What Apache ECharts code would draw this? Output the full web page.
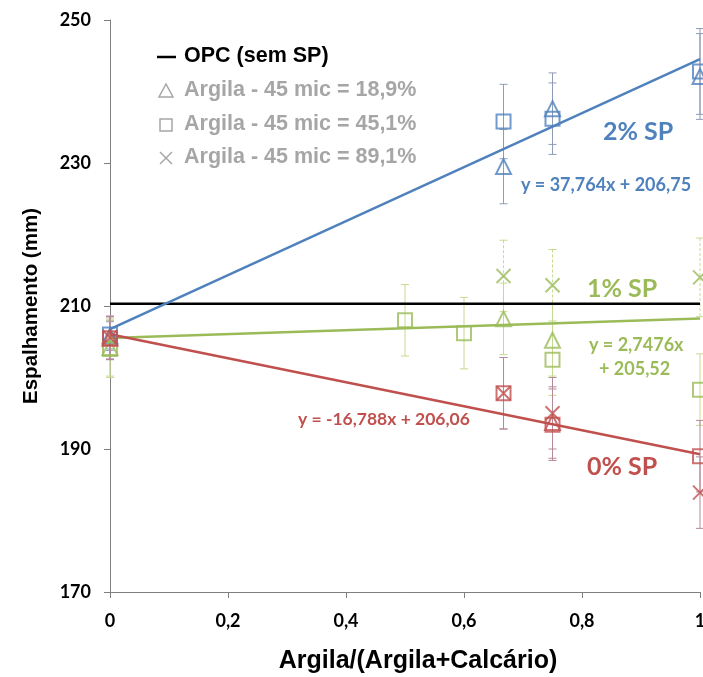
<!DOCTYPE html>
<html>
<head>
<meta charset="utf-8">
<style>
  html, body { margin: 0; padding: 0; background: #fff; }
  #chart { width: 703px; height: 677px; }
</style>
<script src="https://cdn.jsdelivr.net/npm/echarts@6/dist/echarts.min.js"></script>
</head>
<body>
<div id="chart"></div>
<script>
// Spread (mm) against clay fraction for three superplasticizer dosages
const xTicks = [0, 0.2, 0.4, 0.6, 0.8, 1];
const yTicks = [170, 190, 210, 230, 250];

// 2% SP
const sp2TriX = [0, 0.667, 0.75, 1];
const sp2TriY = [205.8, 229.5, 237.6, 242.1];
const sp2TriErr = [2.0, 5.2, 5.0, 6.0];
const sp2SqX = [0, 0.667, 0.75, 1];
const sp2SqY = [206.0, 235.8, 236.2, 242.8];
const sp2SqErr = [2.0, 5.2, 5.0, 6.0];

// 1% SP
const sp1TriX = [0, 0.667, 0.75];
const sp1TriY = [204.2, 208.2, 205.2];
const sp1TriErr = [4.0, 5.0, 5.0];
const sp1SqX = [0, 0.5, 0.6, 0.75, 1];
const sp1SqY = [204.0, 208.0, 206.2, 202.5, 198.3];
const sp1SqErr = [4.0, 5.0, 5.0, 5.0, 5.0];
const sp1CrX = [0.667, 0.75, 1];
const sp1CrY = [214.2, 212.9, 214.0];
const sp1CrErr = [5.0, 5.0, 5.5];

// 0% SP
const sp0TriX = [0, 0.75];
const sp0TriY = [205.5, 193.7];
const sp0TriErr = [3.0, 5.0];
const sp0SqX = [0, 0.667, 0.75, 1];
const sp0SqY = [205.5, 197.8, 193.4, 189.0];
const sp0SqErr = [3.0, 5.0, 5.0, 5.0];
const sp0CrX = [0, 0.667, 0.75, 1];
const sp0CrY = [205.6, 197.8, 195.0, 183.9];
const sp0CrErr = [3.0, 5.0, 5.0, 5.0];

// Linear fits y = a*x + b
const fit2 = [37.764, 206.75];
const fit1 = [2.7476, 205.52];
const fit0 = [-16.788, 206.06];
const opcLevel = 210.3;

const BLUE = '#4f81bd', GREEN = '#9bbb59', RED = '#c0504d', GREY = '#a6a6a6';
const CROSS = 'path://M0,0L10,10M10,0L0,10';

function pts(xs, ys) { return xs.map((x, i) => [x, ys[i]]); }
function errPts(xs, ys, es) { return xs.map((x, i) => [x, ys[i], es[i]]); }
function fitLine(f) { return [[0, f[1]], [1, f[0] + f[1]]]; }

function markers(data, symbol, color) {
  return {
    type: 'scatter', data: data, symbol: symbol, symbolSize: symbol === 'triangle' ? 15 : 14,
    itemStyle: { color: 'rgba(255,255,255,0)', borderColor: color, borderWidth: 2 },
    z: 5, silent: true, clip: true
  };
}

function errorBars(data, color, dashed) {
  return {
    type: 'custom', data: data, z: 2, silent: true,
    renderItem: function (params, api) {
      const x = api.value(0), y = api.value(1), e = api.value(2);
      const top = api.coord([x, y + e]);
      const bot = api.coord([x, y - e]);
      const cap = 4;
      const style = { stroke: color, lineWidth: 1, lineDash: dashed ? [3, 2] : null };
      return {
        type: 'group', children: [
          { type: 'line', shape: { x1: top[0], y1: top[1], x2: bot[0], y2: bot[1] }, style: style },
          { type: 'line', shape: { x1: top[0] - cap, y1: top[1], x2: top[0] + cap, y2: top[1] }, style: { stroke: color, lineWidth: 1 } },
          { type: 'line', shape: { x1: bot[0] - cap, y1: bot[1], x2: bot[0] + cap, y2: bot[1] }, style: { stroke: color, lineWidth: 1 } }
        ]
      };
    }
  };
}

function fitSeries(f, color) {
  return {
    type: 'line', data: fitLine(f), symbol: 'none', z: 4, silent: true,
    lineStyle: { color: color, width: 2.5 }
  };
}

const BAR_BLUE = '#8e9cb8', BAR_GREEN = '#c6da8f', BAR_RED = '#b4899a';

const series = [
  errorBars(errPts(sp2TriX, sp2TriY, sp2TriErr), BAR_BLUE),
  errorBars(errPts(sp2SqX, sp2SqY, sp2SqErr), BAR_BLUE),
  errorBars(errPts(sp1TriX, sp1TriY, sp1TriErr), BAR_GREEN),
  errorBars(errPts(sp1SqX, sp1SqY, sp1SqErr), BAR_GREEN),
  errorBars(errPts(sp1CrX, sp1CrY, sp1CrErr), BAR_GREEN, true),
  errorBars(errPts(sp0TriX, sp0TriY, sp0TriErr), BAR_RED),
  errorBars(errPts(sp0SqX, sp0SqY, sp0SqErr), BAR_RED),
  errorBars(errPts(sp0CrX, sp0CrY, sp0CrErr), BAR_RED),
  {
    type: 'line', data: [[0, opcLevel], [1, opcLevel]], symbol: 'none', z: 3, silent: true,
    lineStyle: { color: '#000', width: 2.5 }
  },
  fitSeries(fit2, BLUE),
  fitSeries(fit1, GREEN),
  fitSeries(fit0, RED),
  markers(pts(sp2TriX, sp2TriY), 'triangle', BLUE),
  markers(pts(sp2SqX, sp2SqY), 'rect', BLUE),
  markers(pts(sp1TriX, sp1TriY), 'triangle', GREEN),
  markers(pts(sp1SqX, sp1SqY), 'rect', GREEN),
  markers(pts(sp1CrX, sp1CrY), CROSS, GREEN),
  markers(pts(sp0TriX, sp0TriY), 'triangle', RED),
  markers(pts(sp0SqX, sp0SqY), 'rect', RED),
  markers(pts(sp0CrX, sp0CrY), CROSS, RED)
];

const chart = echarts.init(document.getElementById('chart'), null, { renderer: 'canvas' });

const labelFont = 'Lato, "Open Sans", sans-serif';
const titleFont = '"Liberation Sans", Arial, sans-serif';

function legendRow(y, icon, text, color) {
  return [icon, {
    type: 'text', left: 184, top: y - 12,
    style: { text: text, fill: color, font: 'bold 21.5px ' + titleFont }
  }];
}

const graphics = [].concat(
  legendRow(57, { type: 'line', shape: { x1: 157, y1: 57, x2: 176, y2: 57 }, style: { stroke: '#000', lineWidth: 2.5 } }, 'OPC (sem SP)', '#000'),
  legendRow(91, { type: 'polygon', shape: { points: [[166, 84], [159, 97], [173, 97]] }, style: { fill: 'none', stroke: GREY, lineWidth: 1.5 } }, 'Argila - 45 mic = 18,9%', GREY),
  legendRow(125, { type: 'rect', shape: { x: 160, y: 119, width: 12, height: 12 }, style: { fill: 'none', stroke: GREY, lineWidth: 1.5 } }, 'Argila - 45 mic = 45,1%', GREY),
  legendRow(158, { type: 'polyline', shape: { points: [[160, 152], [172, 164]] }, style: { stroke: GREY, lineWidth: 1.5 } }, 'Argila - 45 mic = 89,1%', GREY),
  [{ type: 'polyline', shape: { points: [[172, 152], [160, 164]] }, style: { stroke: GREY, lineWidth: 1.5 } }],
  [
    { type: 'text', left: 603, top: 119, style: { text: '2% SP', fill: BLUE, font: 'bold 25px ' + labelFont } },
    { type: 'text', left: 521, top: 176, style: { text: 'y = 37,764x + 206,75', fill: BLUE, font: 'bold 18px ' + labelFont } },
    { type: 'text', left: 587, top: 276, style: { text: '1% SP', fill: GREEN, font: 'bold 25px ' + labelFont } },
    { type: 'text', left: 589, top: 336, style: { text: 'y = 2,7476x', fill: GREEN, font: 'bold 18px ' + labelFont } },
    { type: 'text', left: 599, top: 360, style: { text: '+ 205,52', fill: GREEN, font: 'bold 18px ' + labelFont } },
    { type: 'text', left: 298, top: 410, style: { text: 'y = -16,788x + 206,06', fill: RED, font: 'bold 17.5px ' + labelFont } },
    { type: 'text', left: 587, top: 454, style: { text: '0% SP', fill: RED, font: 'bold 25px ' + labelFont } }
  ]
);

chart.setOption({
  animation: false,
  backgroundColor: '#fff',
  grid: { left: 110, right: 3, top: 20, bottom: 85, outerBoundsMode: 'none', containLabel: false },
  xAxis: {
    type: 'value', min: xTicks[0], max: xTicks[xTicks.length - 1], interval: 0.2,
    name: 'Argila/(Argila+Calcário)', nameLocation: 'middle', nameGap: 57,
    nameTextStyle: { fontFamily: titleFont, fontWeight: 'bold', fontSize: 25, color: '#000', padding: [0, 0, 0, 26] },
    axisLine: { show: true, lineStyle: { color: '#7f7f7f', width: 1 } },
    axisTick: { show: true, inside: false, length: 6, lineStyle: { color: '#7f7f7f' } },
    splitLine: { show: false },
    axisLabel: {
      margin: 20, color: '#000', fontFamily: labelFont, fontWeight: 'bold', fontSize: 18,
      formatter: v => String(Math.round(v * 10) / 10).replace('.', ',')
    }
  },
  yAxis: {
    type: 'value', min: yTicks[0], max: yTicks[yTicks.length - 1], interval: 20,
    name: 'Espalhamento (mm)', nameLocation: 'middle', nameGap: 68, nameRotate: 90,
    nameTextStyle: { fontFamily: titleFont, fontWeight: 'bold', fontSize: 20.5, color: '#000' },
    axisLine: { show: true, lineStyle: { color: '#7f7f7f', width: 1 } },
    axisTick: { show: true, inside: false, length: 6, lineStyle: { color: '#7f7f7f' } },
    splitLine: { show: false },
    axisLabel: { margin: 19, color: '#000', fontFamily: labelFont, fontWeight: 'bold', fontSize: 18 }
  },
  graphic: graphics,
  series: series
});
</script>
</body>
</html>
